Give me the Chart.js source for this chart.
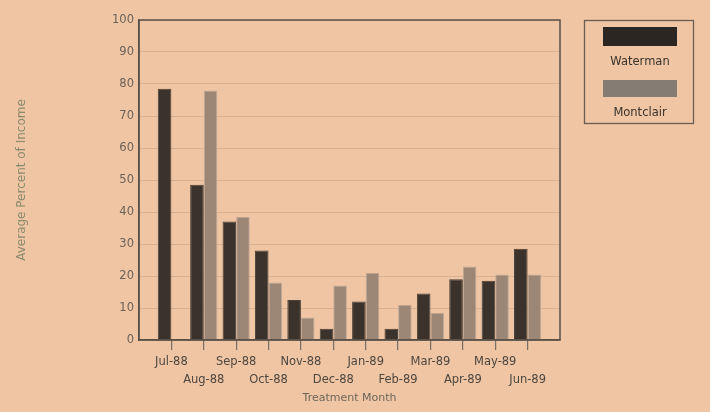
<!DOCTYPE html>
<html>
<head>
<meta charset="utf-8">
<script src="https://cdn.jsdelivr.net/npm/chart.js@4/dist/chart.umd.min.js"></script>
<style>
  body { margin: 0; background: #efc5a3; }
  #wrap { width: 710px; height: 412px; }
</style>
</head>
<body>
<div id="wrap"><canvas id="bar-graph" width="710" height="412"></canvas></div>
<script>
// months, staggered on two rows like the original
const months = ['Jul-88','Aug-88','Sep-88','Oct-88','Nov-88','Dec-88','Jan-89','Feb-89','Mar-89','Apr-89','May-89','Jun-89'];
const waterman = [78.5, 48.5, 37, 28, 12.5, 3.5, 12, 3.5, 14.5, 19, 18.5, 28.5];
const montclair = [null, 78, 38.5, 18, 7, 17, 21, 11, 8.5, 23, 20.5, 20.5];
const yTicks = [0, 10, 20, 30, 40, 50, 60, 70, 80, 90, 100];

// empty slot at each end so the ticks sit one step in from the frame
const labels = [''].concat(months.map((m, i) => i % 2 === 0 ? [m, ''] : ['', m]), ['']);
const pad = arr => [null].concat(arr, [null]);

const ink = '#5a5048';
const font = '"DejaVu Sans", "Liberation Sans", sans-serif';

const paperAndFrame = {
  id: 'paperAndFrame',
  beforeDraw(chart) {
    const c = chart.ctx;
    c.save();
    c.fillStyle = '#efc5a3';
    c.fillRect(0, 0, chart.width, chart.height);
    c.restore();
  },
  afterDraw(chart) {
    const c = chart.ctx;
    const a = chart.chartArea;
    c.save();
    c.strokeStyle = ink;
    c.lineWidth = 1.5;
    c.strokeRect(a.left, a.top, a.right - a.left, a.bottom - a.top);

    // legend box: swatch above name
    c.strokeStyle = '#6a5e54';
    c.lineWidth = 1.3;
    c.strokeRect(584.5, 20.5, 109, 103);
    c.fillStyle = '#2b2622';
    c.fillRect(603, 27, 74, 19);
    c.fillStyle = '#857c74';
    c.fillRect(603, 80, 74, 17);
    c.fillStyle = '#3a332d';
    c.font = '11.5px ' + font;
    c.textAlign = 'center';
    c.textBaseline = 'middle';
    c.fillText('Waterman', 640, 62);
    c.fillText('Montclair', 640, 113);
    c.restore();
  }
};

let myCharts = document.getElementById('bar-graph').getContext('2d');

let bargraph = new Chart(myCharts, {
  type: 'bar',
  data: {
    labels: labels,
    datasets: [{
      label: 'Waterman',
      data: pad(waterman),
      backgroundColor: '#3b322b',
      borderColor: '#4a4038',
      borderWidth: 1,
      categoryPercentage: 0.84,
      barPercentage: 1
    }, {
      label: 'Montclair',
      data: pad(montclair),
      backgroundColor: '#9c8676',
      borderColor: '#c2ab98',
      borderWidth: 1,
      categoryPercentage: 0.84,
      barPercentage: 1
    }]
  },
  options: {
    responsive: false,
    animation: false,
    layout: { padding: { left: 0, right: 150, top: 20, bottom: 0 } },
    plugins: {
      legend: { display: false },
      tooltip: { enabled: false }
    },
    scales: {
      x: {
        offset: false,
        grid: {
          offset: false,
          drawOnChartArea: false,
          tickLength: 10,
          tickColor: ctx => (ctx.index === 0 || ctx.index === labels.length - 1) ? 'rgba(0,0,0,0)' : '#7a6e64',
          lineWidth: 1.2
        },
        border: { color: ink, width: 1.5 },
        ticks: {
          autoSkip: false,
          maxRotation: 0,
          minRotation: 0,
          padding: 3,
          color: '#4e4740',
          font: { family: font, size: 11.5, lineHeight: 1.55 }
        },
        title: {
          display: true,
          text: 'Treatment Month',
          color: '#6e665c',
          padding: { top: 0, bottom: 7 },
          font: { family: font, size: 11 }
        },
        afterFit: s => { s.height = 72; }
      },
      y: {
        min: 0,
        max: 100,
        afterBuildTicks: s => { s.ticks = yTicks.map(v => ({ value: v })); },
        grid: {
          drawTicks: false,
          color: 'rgba(110,90,70,0.18)',
          lineWidth: 1
        },
        border: { color: ink, width: 1.5 },
        ticks: {
          padding: 5,
          color: '#6b6259',
          font: { family: font, size: 11.5 }
        },
        title: {
          display: true,
          text: 'Average Percent of Income',
          color: '#8a8a6e',
          padding: { top: 15, bottom: 0 },
          font: { family: font, size: 12 }
        },
        afterFit: s => { s.width = 139; }
      }
    }
  },
  plugins: [paperAndFrame]
});
</script>
</body>
</html>
